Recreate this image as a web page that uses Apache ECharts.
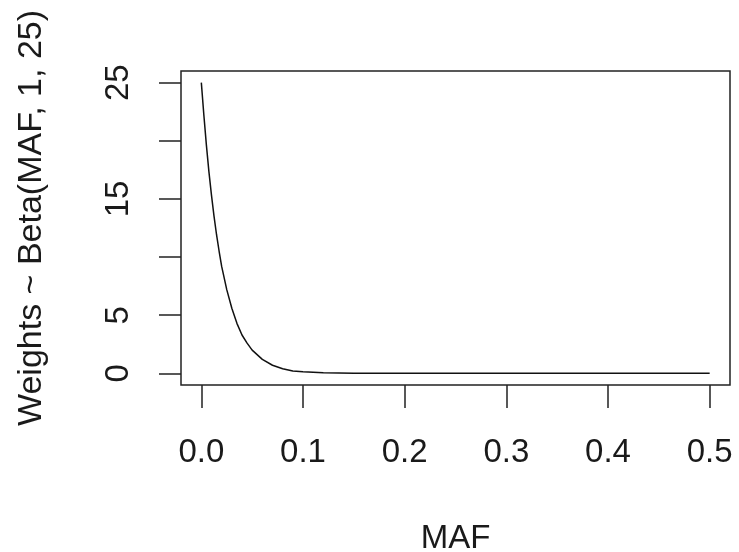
<!DOCTYPE html>
<html>
<head>
<meta charset="utf-8">
<script src="https://cdn.jsdelivr.net/npm/echarts@6/dist/echarts.min.js"></script>
<style>
  html, body { margin: 0; padding: 0; background: #fff; }
  #chart { width: 739px; height: 552px; }
</style>
</head>
<body>
<div id="chart"></div>
<script>
// Minor allele frequency positions and their Beta(1, 25) weights
const maf = [0, 0.0025, 0.005, 0.0075, 0.01, 0.0125, 0.015, 0.0175, 0.02, 0.025,
             0.03, 0.035, 0.04, 0.045, 0.05, 0.06, 0.07, 0.08, 0.09, 0.10,
             0.12, 0.15, 0.20, 0.30, 0.40, 0.50];
const weights = [25, 22.2, 19.6, 17.3, 15.3, 13.5, 11.9, 10.5, 9.2, 7.2,
                 5.6, 4.3, 3.3, 2.6, 2.0, 1.2, 0.7, 0.4, 0.2, 0.13,
                 0.05, 0.01, 0, 0, 0, 0];

// Axis ticks and the labels printed beside them
const xTicks = [0, 0.1, 0.2, 0.3, 0.4, 0.5];
const yTicks = [0, 5, 10, 15, 20, 25];
const yLabels = [0, 5, 15, 25];

const FONT = 'Liberation Sans, Arial, Helvetica, sans-serif';
const INK = '#1a1a1a';
const FS = 33;

const chart = echarts.init(document.getElementById('chart'), null, { renderer: 'canvas' });

chart.setOption({
  animation: false,
  backgroundColor: '#fff',
  grid: {
    left: 181, right: 9, top: 71, bottom: 167,
    show: true, borderColor: '#222', borderWidth: 1.5,
    containLabel: false,
    outerBoundsMode: 'none'
  },
  xAxis: {
    type: 'value',
    min: -0.02, max: 0.52,
    name: 'MAF',
    nameLocation: 'middle',
    nameGap: 137,
    nameTextStyle: { fontFamily: FONT, fontSize: FS, color: INK },
    axisLine: { show: false, onZero: false },
    splitLine: { show: false },
    axisTick: {
      show: true, inside: false, length: 23,
      customValues: xTicks,
      lineStyle: { color: '#222', width: 1.5 }
    },
    axisLabel: {
      customValues: xTicks,
      margin: 51,
      fontFamily: FONT, fontSize: FS, color: INK,
      formatter: v => v.toFixed(1)
    }
  },
  yAxis: {
    type: 'value',
    min: -1, max: 26,
    name: 'Weights ~ Beta(MAF, 1, 25)',
    nameLocation: 'middle',
    nameRotate: 90,
    nameGap: 132,
    nameTextStyle: { fontFamily: FONT, fontSize: 34, color: INK, padding: [0, 0, 0, 20] },
    axisLine: { show: false, onZero: false },
    splitLine: { show: false },
    axisTick: {
      show: true, inside: false, length: 22,
      customValues: yTicks,
      lineStyle: { color: '#222', width: 1.5 }
    },
    axisLabel: {
      customValues: yLabels,
      rotate: 90,
      margin: 46,
      fontFamily: FONT, fontSize: FS, color: INK
    }
  },
  series: [{
    type: 'line',
    data: maf.map((x, i) => [x, weights[i]]),
    showSymbol: false,
    smooth: false,
    lineStyle: { color: '#111', width: 1.5 },
    clip: true
  }]
});
</script>
</body>
</html>
